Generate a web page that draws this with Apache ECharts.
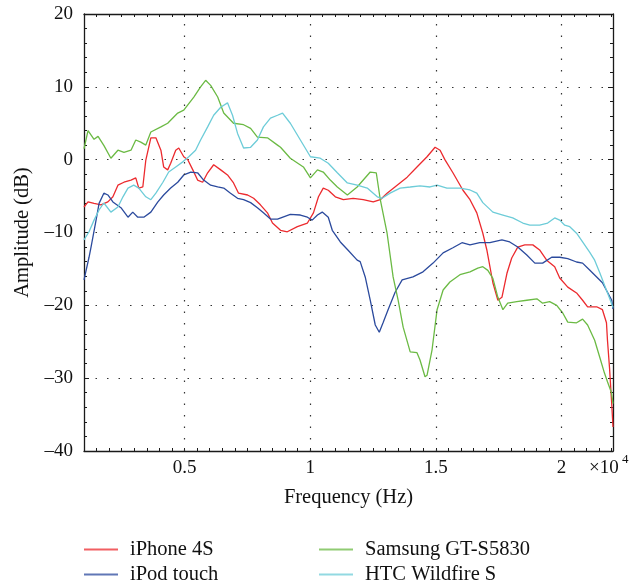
<!DOCTYPE html>
<html>
<head>
<meta charset="utf-8">
<title>Amplitude vs Frequency</title>
<script src="https://cdn.jsdelivr.net/npm/echarts@6/dist/echarts.min.js"></script>
<style>
  html, body { margin: 0; padding: 0; background: #fff; }
  #chart { width: 643px; height: 585px; }
</style>
</head>
<body>
<div id="chart"></div>
<script>
// Frequency response of four handsets (Hz vs dB)
const seriesNames = ['iPhone 4S', 'iPod touch', 'Samsung GT-S5830', 'HTC Wildfire S'];

const iphoneFreq = [1000,1160,1400,1675,1950,2150,2350,2590,2870,3060,3180,3340,3460,3660,3860,4060,4170,4330,4450,4650,4770,4970,5130,5330,5520,5720,5920,6160,6440,6710,6950,7150,7510,7750,8020,8300,8500,8820,9090,9490,9890,10130,10330,10520,10720,11000,11320,11710,12110,12510,12790,13060,13460,13860,14250,14650,14970,15170,15360,15680,16080,16360,16630,16870,17030,17270,17470,17630,17830,18020,18260,18540,18860,19130,19410,19730,19930,20250,20600,20840,21040,21400,21630,21790,21830,21910,21990,22050];
const iphoneAmp = [-6.5,-5.8,-6.0,-6.2,-5.8,-5.1,-3.5,-3.1,-2.8,-2.5,-3.9,-3.75,-0.05,3.0,3.0,1.3,-1.0,-1.4,-0.5,1.3,1.6,0.4,0.0,-1.4,-2.8,-3.1,-1.8,-0.7,-1.4,-2.1,-3.2,-4.6,-4.85,-5.3,-6.2,-7.3,-8.7,-9.7,-9.9,-9.2,-8.7,-7.3,-5.1,-3.9,-4.2,-5.1,-5.5,-5.3,-5.5,-5.8,-5.5,-4.6,-3.5,-2.4,-1.0,0.4,1.7,1.3,0.0,-1.8,-4.2,-5.5,-7.3,-10.1,-12.4,-16.9,-19.3,-18.9,-15.6,-13.5,-12.0,-11.7,-11.7,-12.4,-13.8,-14.7,-16.25,-17.5,-18.3,-19.3,-20.2,-20.2,-20.6,-22.4,-24.8,-28.5,-33.0,-36.7];

const ipodFreq = [1000,1200,1280,1480,1600,1790,1950,2150,2470,2750,2940,3140,3380,3660,3940,4170,4450,4730,4970,5250,5520,5760,6040,6320,6560,6830,7110,7350,7630,7900,8140,8420,8700,9210,9610,9890,10080,10290,10480,10720,10880,11200,11500,11870,11990,12190,12390,12590,12750,12900,13100,13380,13660,14090,14490,14890,15290,15680,16040,16360,16750,17150,17630,17940,18260,18620,18940,19250,19610,19930,20250,20600,20840,21120,21400,21630,21830,22000,22050];
const ipodAmp = [-16.5,-13.4,-12.0,-8.3,-6.0,-4.6,-4.85,-5.8,-6.6,-7.9,-7.2,-7.9,-7.9,-7.2,-5.8,-4.85,-3.9,-3.1,-2.1,-1.7,-1.8,-2.8,-3.5,-3.75,-3.9,-4.6,-5.3,-5.5,-5.9,-6.6,-7.3,-8.15,-8.15,-7.5,-7.6,-7.9,-8.3,-7.6,-7.2,-7.9,-9.7,-11.3,-12.4,-13.8,-14.0,-16.1,-19.3,-22.7,-23.7,-22.4,-20.6,-18.2,-16.5,-16.1,-15.4,-14.2,-12.8,-12.1,-11.4,-11.7,-11.4,-11.4,-11.0,-11.3,-12.0,-13.1,-14.2,-14.2,-13.4,-13.4,-13.6,-14.05,-14.2,-15.15,-16.1,-16.9,-18.2,-19.3,-20.5];

const samsungFreq = [1000,1160,1400,1560,1800,2070,2350,2590,2870,3060,3260,3460,3660,4060,4330,4730,4970,5370,5640,5840,6040,6320,6560,6950,7350,7630,7900,8300,8700,8820,9210,9730,10010,10290,10520,10800,11080,11480,11870,12390,12630,12790,13060,13300,13500,13700,13980,14250,14370,14570,14650,14850,15050,15290,15560,15960,16360,16670,16870,17070,17270,17470,17670,17860,18220,18620,19020,19250,19530,19810,20050,20250,20600,20840,21040,21320,21520,21710,21830,21990,22050];
const samsungAmp = [1.5,4.0,2.8,3.2,1.9,0.2,1.3,1.0,1.3,2.7,2.4,2.0,3.8,4.5,5.0,6.4,6.8,8.6,10.0,10.9,10.2,8.6,6.4,5.0,4.8,4.3,3.1,3.0,2.0,1.7,0.2,-1.0,-2.5,-1.4,-1.7,-2.8,-3.75,-4.85,-3.75,-1.7,-1.8,-5.5,-10.1,-16.1,-19.3,-23.0,-26.4,-26.5,-27.5,-29.8,-29.6,-26.1,-20.6,-17.9,-16.8,-15.8,-15.4,-14.9,-14.7,-15.2,-16.3,-18.9,-20.6,-19.7,-19.5,-19.3,-19.1,-19.7,-19.5,-20.0,-21.05,-22.3,-22.4,-21.9,-22.7,-24.8,-27.1,-29.3,-30.5,-32.0,-33.5];

const htcFreq = [1000,1200,1400,1600,1790,2070,2350,2550,2750,2980,3180,3460,3660,3860,4140,4370,4650,4930,5170,5440,5640,5920,6160,6440,6710,6910,7110,7350,7630,7900,8140,8420,8700,8900,9210,9610,10010,10400,10720,11080,11480,11870,12270,12670,12860,13180,13580,13980,14370,14770,15050,15440,15960,16360,16630,16870,17270,17670,18060,18460,18740,19130,19450,19730,19930,20130,20330,20600,20840,21120,21320,21520,21710,21910,22050];
const htcAmp = [-11.0,-9.9,-8.3,-6.9,-5.95,-7.2,-6.5,-5.1,-3.9,-3.5,-3.9,-5.1,-5.5,-4.6,-3.1,-1.7,-1.0,-0.3,0.4,1.3,2.7,4.5,6.1,7.2,7.8,6.1,3.6,1.6,1.7,2.7,4.5,5.7,6.1,6.4,5.0,2.7,0.4,0.2,-0.5,-1.8,-3.2,-3.5,-3.9,-5.1,-5.3,-4.6,-3.9,-3.75,-3.6,-3.75,-3.5,-3.9,-3.9,-4.16,-4.6,-5.9,-7.2,-7.6,-8.0,-8.7,-9.0,-9.0,-8.7,-8.0,-8.3,-9.0,-9.2,-10.1,-11.3,-12.7,-13.8,-15.5,-17.2,-19.0,-20.3];

// axis ranges and labelled ticks
const freqMin = 1000, freqMax = 22050;
const freqGridTicks = [5000, 10000, 15000, 20000];
const ampMin = -40, ampMax = 20, ampStep = 10;

const colors = ['#ec2a2e', '#2b4a9d', '#6bba44', '#6dccd8'];
const FONT = '"Liberation Serif", "DejaVu Serif", serif';
const DOTS = [1.5, 10];

function pairs(f, a) { return f.map((x, i) => [x, a[i]]); }

const allData = [
  pairs(iphoneFreq, iphoneAmp),
  pairs(ipodFreq, ipodAmp),
  pairs(samsungFreq, samsungAmp),
  pairs(htcFreq, htcAmp)
];

const axisLineStyle = { color: '#1a1a1a', width: 1.3 };

function freqAxis(pos, withLabels) {
  return {
    type: 'value', position: pos, min: freqMin, max: freqMax, interval: 500,
    axisLine: { show: true, onZero: false, lineStyle: axisLineStyle },
    axisTick: { show: true, inside: true, length: 3, lineStyle: { color: '#1a1a1a', width: 1 } },
    axisLabel: withLabels ? {
      show: true, margin: 8, color: '#111', fontFamily: FONT, fontSize: 19,
      formatter: v => (v % 5000 === 0 ? String(v / 10000) : '')
    } : { show: false },
    splitLine: { show: false },
    name: withLabels ? 'Frequency (Hz)' : '',
    nameLocation: 'middle', nameGap: 36,
    nameTextStyle: { color: '#111', fontFamily: FONT, fontSize: 20.5 }
  };
}

function ampAxis(pos, withLabels) {
  return {
    type: 'value', position: pos, min: ampMin, max: ampMax, interval: ampStep,
    axisLine: { show: true, onZero: false, lineStyle: axisLineStyle },
    axisTick: { show: true, inside: true, length: 5, lineStyle: { color: '#1a1a1a', width: 1 } },
    minorTick: { show: true, splitNumber: 5, length: 3, lineStyle: { color: '#1a1a1a', width: 1 } },
    axisLabel: withLabels ? {
      show: true, margin: 11, color: '#111', fontFamily: FONT, fontSize: 19,
      formatter: v => (v < 0 ? '\u2013' + Math.abs(v) : String(v))
    } : { show: false },
    splitLine: withLabels ? { show: true, lineStyle: { color: '#333', width: 1.2, type: DOTS } } : { show: false },
    name: withLabels ? 'Amplitude (dB)' : '',
    nameLocation: 'middle', nameGap: 51, nameRotate: 90,
    nameTextStyle: { color: '#111', fontFamily: FONT, fontSize: 20.5 }
  };
}

const series = seriesNames.map((name, i) => ({
  name: name,
  type: 'line',
  xAxisIndex: 0, yAxisIndex: 0,
  data: allData[i],
  symbol: 'none', showSymbol: false,
  smooth: false,
  lineStyle: { color: colors[i], width: 1.3 },
  itemStyle: { color: colors[i] },
  z: 3
}));

// dotted vertical grid lines at the labelled frequencies
series[0].markLine = {
  silent: true, symbol: ['none', 'none'], animation: false,
  label: { show: false },
  lineStyle: { color: '#333', width: 1.2, type: DOTS },
  data: freqGridTicks.map(v => ({ xAxis: v }))
};

// one legend block per entry, arranged in two columns of two rows
const legendSlots = [
  { left: 84, top: 539 },
  { left: 84, top: 564 },
  { left: 319, top: 539 },
  { left: 319, top: 564 }
];

const legends = seriesNames.map((name, i) => ({
  left: legendSlots[i].left, top: legendSlots[i].top,
  orient: 'horizontal', padding: 0,
  icon: 'rect', itemWidth: 34, itemHeight: 2,
  itemStyle: { color: colors[i], opacity: 0.75 },
  data: [name], selectedMode: false,
  textStyle: { color: '#111', fontFamily: FONT, fontSize: 20.5, padding: [0, 0, 0, 7] }
}));

const option = {
  animation: false,
  backgroundColor: '#ffffff',
  grid: { left: 84, top: 14, width: 529, height: 437, containLabel: false },
  xAxis: [freqAxis('bottom', true), freqAxis('top', false)],
  yAxis: [ampAxis('left', true), ampAxis('right', false)],
  legend: legends,
  graphic: [
    { type: 'text', left: 589, top: 459, style: { text: '\u00d710', fill: '#111', font: '19px ' + FONT } },
    { type: 'text', left: 622, top: 453, style: { text: '4', fill: '#111', font: '13px ' + FONT } }
  ],
  series: series
};

const chart = echarts.init(document.getElementById('chart'), null, { renderer: 'canvas' });
chart.setOption(option);
</script>
</body>
</html>
